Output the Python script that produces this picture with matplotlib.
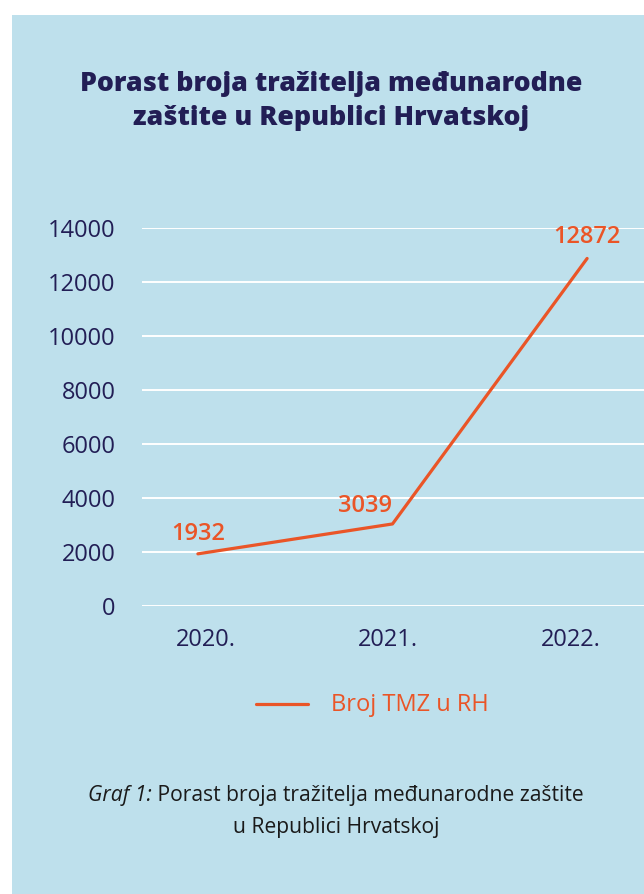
import matplotlib
matplotlib.use("Agg")
import matplotlib.pyplot as plt
from matplotlib.patches import Rectangle
from matplotlib.lines import Line2D

years = ["2020.", "2021.", "2022."]
values = [1932, 3039, 12872]
yticks = [0, 2000, 4000, 6000, 8000, 10000, 12000, 14000]
series_name = "Broj TMZ u RH"
title = "Porast broja tražitelja međunarodne\nzaštite u Republici Hrvatskoj"

BG = "#BEE0EC"
NAVY = "#221E55"
ORANGE = "#EA5527"

plt.rcParams['font.family'] = ['Open Sans', 'DejaVu Sans']

W, H = 644, 894
fig = plt.figure(figsize=(W / 100, H / 100), dpi=100)
fig.patch.set_facecolor("white")
fig.patches.append(Rectangle((12 / W, 0), 1 - 12 / W, (H - 15) / H,
                             transform=fig.transFigure, facecolor=BG,
                             edgecolor="none", zorder=-10))

ax = fig.add_axes([142 / W, (H - 606) / H, 1 - 142 / W, 378 / H])
ax.set_zorder(2)
ax.set_facecolor("none")
x = list(range(len(years)))
ax.plot(x, values, color=ORANGE, lw=2.3, solid_capstyle="round", zorder=3,
        clip_on=False)
ax.set_ylim(0, 14000)
ax.set_xlim(-56 / 195, 2 + 57 / 195)
ax.set_yticks(yticks)
ax.set_yticklabels([str(v) for v in yticks])
# category labels sit slightly off the points in the reference
label_shift = [8 / 195, -5 / 195, -16 / 195]
ax.set_xticks([xi + s for xi, s in zip(x, label_shift)])
ax.set_xticklabels(years)
ax.grid(axis="y", color="white", lw=1.4, zorder=1)
ax.set_axisbelow(True)
for s in ax.spines.values():
    s.set_visible(False)
ax.tick_params(axis="both", length=0, labelsize=17, labelcolor=NAVY)
ax.tick_params(axis="y", pad=19)
ax.tick_params(axis="x", pad=16)

# data labels
offsets = [(0, 6), (-20, 4.6), (0, 6.5)]
for xi, v, (dx, dy) in zip(x, values, offsets):
    ax.annotate(str(v), (xi, v), xytext=(dx, dy), textcoords="offset points",
                ha="center", va="bottom", color=ORANGE, fontsize=17,
                fontweight="semibold", annotation_clip=False)

fig.text(331 / W, 1 - 101 / H, title, ha="center", va="center",
         fontsize=19.3, fontweight="heavy", color=NAVY, linespacing=1.42)

# legend
fig.add_artist(Line2D([256 / W, 308 / W], [1 - 704 / H, 1 - 704 / H],
                      transform=fig.transFigure, color=ORANGE, lw=2.3,
                      solid_capstyle="round"))
fig.text(331 / W, 1 - 705 / H, series_name, ha="left", va="center",
         fontsize=17, color=ORANGE)

# caption
CS = 15.2
cap_y1 = 1 - 795 / H
t1 = fig.text(0, cap_y1, "Graf 1:", fontstyle="italic", fontsize=CS,
              color="#1a1a1a", va="center", ha="left")
t2 = fig.text(0, cap_y1, " Porast broja tražitelja međunarodne zaštite",
              fontsize=CS, color="#1a1a1a", va="center", ha="left")
fig.canvas.draw()
r = fig.canvas.get_renderer()
w1 = t1.get_window_extent(r).width
w2 = t2.get_window_extent(r).width
start = 336 - (w1 + w2) / 2
t1.set_x(start / W)
t2.set_x((start + w1) / W)
fig.text(336 / W, 1 - 828 / H, "u Republici Hrvatskoj", fontsize=CS,
         color="#1a1a1a", va="center", ha="center")

fig.savefig("out.png", dpi=100, facecolor="white")
